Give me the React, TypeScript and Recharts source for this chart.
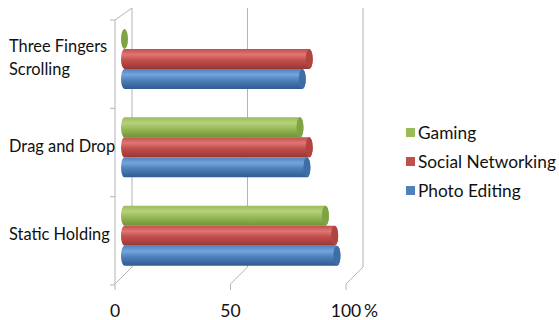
import React from "react";
import { BarChart, Bar, XAxis, YAxis, CartesianGrid } from "recharts";

const categories = ["Three Fingers Scrolling", "Drag and Drop", "Static Holding"];
const gaming = [0, 79, 90];
const socialNetworking = [83, 83, 94];
const photoEditing = [80, 82, 95];
const xTicks = [0, 50, 100];

const FONT = "Lato, 'Open Sans', sans-serif";
const LINE = "#b4b4b4";

// listed top to bottom inside each group, same order as the legend
const series = [
  { key: "gaming", name: "Gaming", values: gaming, color: "#9bbb59", light: "#b5d27c", dark: "#6f9336", cap: "#7fa444" },
  { key: "social", name: "Social Networking", values: socialNetworking, color: "#c0504d", light: "#e07573", dark: "#9a3532", cap: "#b14441" },
  { key: "photo", name: "Photo Editing", values: photoEditing, color: "#4f81bd", light: "#75a5dc", dark: "#2f5b91", cap: "#3f6ea6" },
];

const data = categories.map((c, i) => ({
  category: c,
  gaming: gaming[i],
  social: socialNetworking[i],
  photo: photoEditing[i],
}));

/** 3D-ish cylinder: gradient body + darker end cap */
function cylinder(id: string, cap: string) {
  return (props: any) => {
    const { x, y, width, height } = props;
    const rx = 3.5;
    const ry = height / 2;
    const w = Math.max(width, 2 * rx);
    const endX = x + w - rx;
    const body = `M${x + rx},${y} L${endX},${y} A${rx},${ry} 0 0 1 ${endX},${y + height} L${x + rx},${y + height} A${rx},${ry} 0 0 1 ${x + rx},${y} Z`;
    return (
      <g>
        {width > 2 * rx && <path d={body} fill={`url(#${id})`} />}
        <ellipse cx={endX} cy={y + ry} rx={rx} ry={ry} fill={cap} />
      </g>
    );
  };
}

// back wall lines + floor slant, offsets mimic Excel's 3D frame
const GridLine = (props: any) => {
  const { x1, y1, y2, index } = props;
  const bx = x1 + 11;
  const fx = x1 - 6;
  const parts = [
    <path key="v" d={`M${bx},${y1 - 7} L${bx},${y2 - 13} L${fx},${y2 + 4} L${fx},${y2 + 10}`} stroke={LINE} fill="none" />,
  ];
  if (index === 0) {
    const band = (y2 - y1) / categories.length;
    parts.push(
      <path key="a" d={`M${bx},${y1 - 7} L${fx},${y1 + 5} L${fx},${y2 + 4}`} stroke={LINE} fill="none" />
    );
    for (let i = 0; i <= categories.length; i++) {
      const ty = y1 + 5 + i * band;
      parts.push(<line key={`t${i}`} x1={fx - 5} x2={fx} y1={ty} y2={ty} stroke={LINE} />);
    }
  }
  return <g key={props.key}>{parts}</g>;
};

const CategoryTick = (props: any) => {
  const { y, payload } = props;
  const label: string = payload.value;
  const lines =
    label.length > 16
      ? [label.slice(0, label.lastIndexOf(" ")), label.slice(label.lastIndexOf(" ") + 1)]
      : [label];
  const lh = 23;
  const start = y - 3 - ((lines.length - 1) * lh) / 2;
  return (
    <text x={9} y={start} textAnchor="start" dominantBaseline="central" fontFamily={FONT} fontSize={16.4} fill="#111">
      {lines.map((l, i) => (
        <tspan key={i} x={9} y={start + i * lh}>
          {l}
        </tspan>
      ))}
    </text>
  );
};

const ValueTick = (props: any) => {
  const { x, y, payload } = props;
  const tx = x - 6;
  const isLast = payload.value === xTicks[xTicks.length - 1];
  return (
    <g>
      <text x={tx} y={y + 22} textAnchor="middle" dominantBaseline="central" fontFamily={FONT} fontSize={17.5} fill="#111">
        {payload.value}
      </text>
      {isLast && (
        <text x={tx + 18} y={y + 22} textAnchor="start" dominantBaseline="central" fontFamily={FONT} fontSize={17.5} fill="#111">
          %
        </text>
      )}
    </g>
  );
};

export default function App() {
  return (
    <div style={{ position: "absolute", left: 0, top: 0, width: 559, height: 320, background: "#fff" }}>
      <BarChart
        width={559}
        height={320}
        data={data}
        layout="vertical"
        margin={{ top: 15, right: 207, bottom: 10, left: 0 }}
        barSize={20}
        barGap={0}
      >
        <defs>
          {series.map((s) => (
            <linearGradient key={s.key} id={`g-${s.key}`} x1="0" y1="0" x2="0" y2="1">
              <stop offset="0%" stopColor={s.color} />
              <stop offset="28%" stopColor={s.light} />
              <stop offset="55%" stopColor={s.color} />
              <stop offset="100%" stopColor={s.dark} />
            </linearGradient>
          ))}
        </defs>
        <CartesianGrid horizontal={false} vertical={GridLine} />
        <XAxis
          type="number"
          domain={[0, 100]}
          ticks={xTicks}
          axisLine={false}
          tickLine={false}
          height={30}
          tick={ValueTick}
        />
        <YAxis
          type="category"
          dataKey="category"
          width={121}
          axisLine={false}
          tickLine={false}
          tick={CategoryTick}
        />
        {series.map((s) => (
          <Bar
            key={s.key}
            dataKey={s.key}
            name={s.name}
            fill={s.color}
            isAnimationActive={false}
            shape={cylinder(`g-${s.key}`, s.cap)}
          />
        ))}
      </BarChart>
      <div style={{ position: "absolute", left: 406, top: 118, fontFamily: FONT, fontSize: 17.3, color: "#111" }}>
        {series.map((s) => (
          <div key={s.key} style={{ display: "flex", alignItems: "center", height: 29 }}>
            <span style={{ width: 9, height: 9, background: s.color, marginRight: 3, display: "inline-block" }} />
            <span>{s.name}</span>
          </div>
        ))}
      </div>
    </div>
  );
}
